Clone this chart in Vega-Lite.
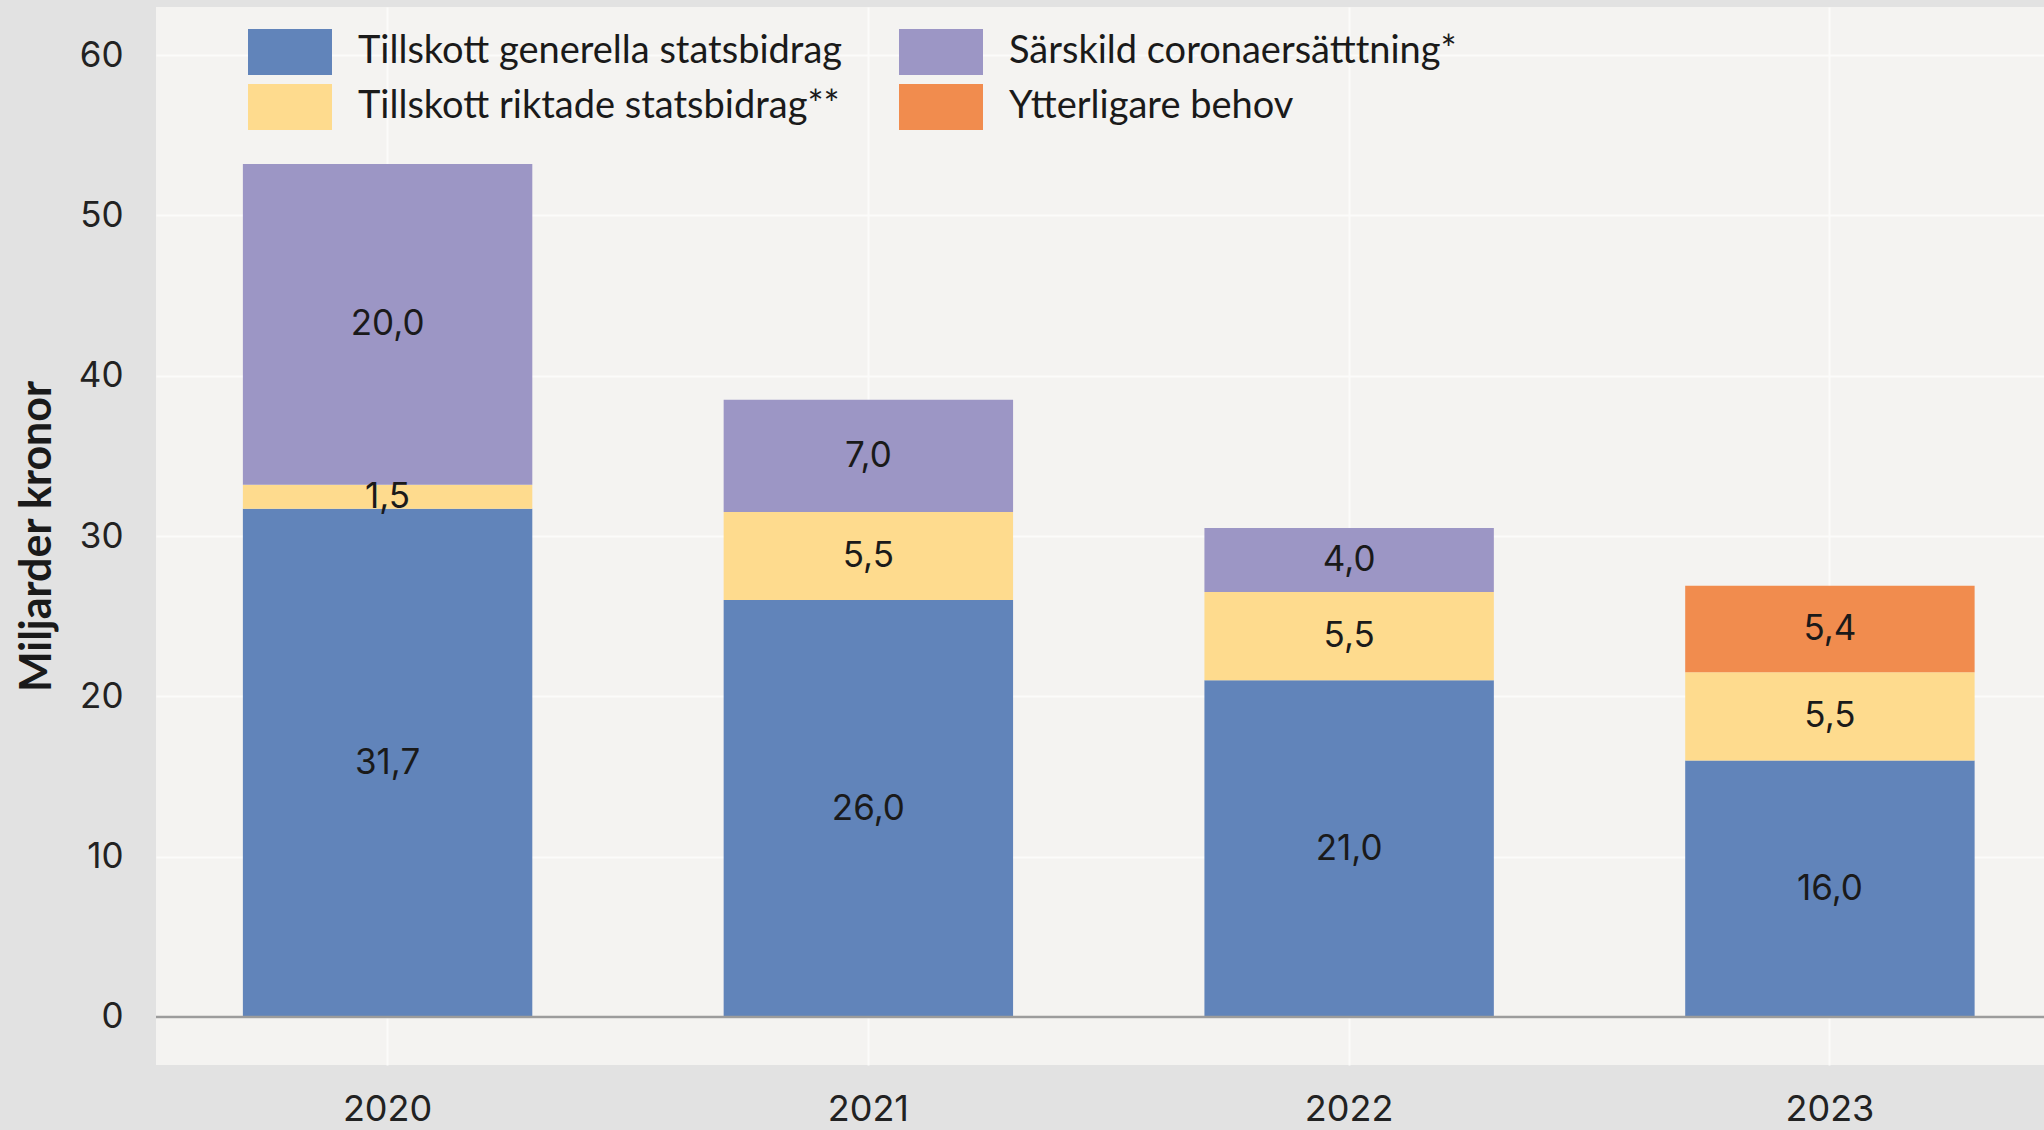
{
  "$schema": "https://vega.github.io/schema/vega-lite/v6.json",
  "width": 1888,
  "height": 1058,
  "autosize": {"type": "none"},
  "padding": {"left": 156, "top": 7, "right": 0, "bottom": 65},
  "background": "#e2e2e2",
  "config": {
    "view": {"fill": "#f4f3f1", "stroke": null},
    "locale": {"number": {"decimal": ",", "thousands": "\u00a0", "grouping": [3], "currency": ["", " kr"]}}
  },
  "data": {
    "values": [
      {"ar": "2020", "kategori": "Tillskott generella statsbidrag", "varde": 31.7},
      {"ar": "2020", "kategori": "Tillskott riktade statsbidrag**", "varde": 1.5},
      {"ar": "2020", "kategori": "Särskild coronaersätttning*", "varde": 20.0},
      {"ar": "2021", "kategori": "Tillskott generella statsbidrag", "varde": 26.0},
      {"ar": "2021", "kategori": "Tillskott riktade statsbidrag**", "varde": 5.5},
      {"ar": "2021", "kategori": "Särskild coronaersätttning*", "varde": 7.0},
      {"ar": "2022", "kategori": "Tillskott generella statsbidrag", "varde": 21.0},
      {"ar": "2022", "kategori": "Tillskott riktade statsbidrag**", "varde": 5.5},
      {"ar": "2022", "kategori": "Särskild coronaersätttning*", "varde": 4.0},
      {"ar": "2023", "kategori": "Tillskott generella statsbidrag", "varde": 16.0},
      {"ar": "2023", "kategori": "Tillskott riktade statsbidrag**", "varde": 5.5},
      {"ar": "2023", "kategori": "Ytterligare behov", "varde": 5.4}
    ]
  },
  "transform": [
    {"calculate": "indexof(['Tillskott generella statsbidrag','Tillskott riktade statsbidrag**','Särskild coronaersätttning*','Ytterligare behov'], datum.kategori)", "as": "ord"},
    {"stack": "varde", "groupby": ["ar"], "sort": [{"field": "ord", "order": "ascending"}], "as": ["v0", "v1"]},
    {"calculate": "(datum.v0 + datum.v1) / 2", "as": "mitt"}
  ],
  "layer": [
    {
      "mark": {"type": "bar"},
      "encoding": {
        "x": {
          "field": "ar", "type": "ordinal",
          "scale": {"paddingInner": 0.398, "paddingOuter": 0.1625, "align": 0.556},
          "axis": {
            "title": null, "labelAngle": 0, "labelFont": "Inter", "labelFontSize": 36, "labelColor": "#222222",
            "labelPadding": 27, "ticks": false, "tickSize": 0, "domain": false,
            "grid": true, "gridColor": "#fbfbfa", "gridWidth": 2, "bandPosition": 0.5
          }
        },
        "y": {
          "field": "v0", "type": "quantitative",
          "scale": {"domain": [-3, 63], "nice": false, "zero": false},
          "axis": {
            "values": [0, 10, 20, 30, 40, 50, 60],
            "title": "Miljarder kronor", "titleFont": "Lato", "titleFontWeight": "bold", "titleFontSize": 43,
            "titleColor": "#1a1a1a", "titleAngle": -90, "titleX": -119, "titleY": 529,
            "titleAlign": "center", "titleBaseline": "middle",
            "labelFont": "Inter", "labelFontSize": 35, "labelColor": "#222222", "labelPadding": 33,
            "ticks": false, "tickSize": 0, "domain": false,
            "grid": true, "gridColor": "#fbfbfa", "gridWidth": 2
          }
        },
        "y2": {"field": "v1"},
        "color": {
          "field": "kategori", "type": "nominal",
          "scale": {
            "domain": ["Tillskott generella statsbidrag", "Tillskott riktade statsbidrag**", "Särskild coronaersätttning*", "Ytterligare behov"],
            "range": ["#6184ba", "#fedb8e", "#9c96c5", "#f18c4e"]
          },
          "legend": {
            "title": null, "orient": "none", "legendX": 92, "legendY": 22, "columns": 2,
            "symbolType": "M-1,-1H2.652V1H-1Z", "symbolSize": 2116, "symbolStrokeWidth": 0, "symbolOpacity": 1,
            "labelFont": "Lato", "labelFontSize": 38, "labelColor": "#1a1a1a", "labelOffset": 64,
            "columnPadding": 56, "rowPadding": 9, "padding": 0, "labelLimit": 1000
          }
        }
      }
    },
    {
      "data": {"values": [{}]},
      "mark": {"type": "rule", "color": "#9c9c9c", "strokeWidth": 2.5},
      "encoding": {"y": {"datum": 0, "type": "quantitative"}}
    },
    {
      "mark": {"type": "text", "font": "Inter", "fontSize": 35, "color": "#1a1a1a"},
      "encoding": {
        "x": {"field": "ar", "type": "ordinal"},
        "y": {"field": "mitt", "type": "quantitative"},
        "text": {"field": "varde", "type": "quantitative", "format": ".1f"}
      }
    }
  ]
}
